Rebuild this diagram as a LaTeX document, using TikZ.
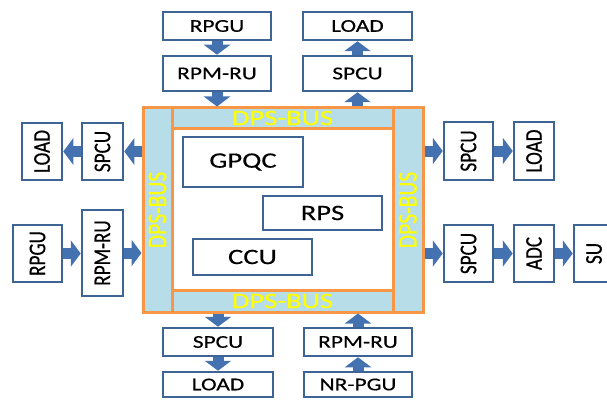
\documentclass[tikz,border=0pt]{standalone}
\usepackage{fontspec}
\setmainfont{Carlito}
\newfontfamily\hfont{Carlito}[FakeStretch=1.3, FakeBold=0.4]
\newfontfamily\vfont{Carlito}[FakeStretch=0.8, FakeBold=0.4]
\usetikzlibrary{arrows.meta}
\definecolor{boxblue}{RGB}{62,100,150}
\definecolor{flowblue}{RGB}{68,114,176}
\definecolor{busfill}{RGB}{183,221,232}
\definecolor{busline}{RGB}{247,150,70}
\definecolor{buslabel}{RGB}{255,255,0}
\tikzstyle{block} = [rectangle, draw=boxblue, line width=2.5pt, fill=white,
    inner sep=0pt, font=\hfont\fontsize{18}{20}\selectfont]
\tikzstyle{vblock} = [block, font=\vfont\fontsize{24}{26}\selectfont]
\tikzstyle{unit} = [block, font=\hfont\fontsize{22}{24}\selectfont]
\tikzstyle{bus} = [rectangle, draw=busline, line width=3pt, fill=busfill,
    inner sep=0pt, text=buslabel, font=\hfont\fontsize{22}{24}\selectfont]
\tikzstyle{vbus} = [bus, font=\vfont\fontsize{27}{29}\selectfont]
\tikzstyle{flow} = [draw=flowblue, line width=11pt, -{Triangle[width=26pt,length=10pt]}]

\begin{document}
\begin{tikzpicture}[x=1pt, y=-1pt]
    \useasboundingbox (0,0) rectangle (607,401);
    \clip (0,0) rectangle (607,401);

    % Bus frame
    \node [vbus, minimum width=29pt, minimum height=204pt] (leftbus) at (157.5,210) {\rotatebox{90}{DPS-BUS}};
    \node [vbus, minimum width=30pt, minimum height=204pt] (rightbus) at (408,210) {\rotatebox{90}{DPS-BUS}};
    \node [bus, minimum width=221pt, minimum height=20pt] (topbus) at (282.5,118) {DPS-BUS};
    \node [bus, minimum width=221pt, minimum height=22pt] (botbus) at (282.5,301) {DPS-BUS};
    \node [bus, fill=white, minimum width=221pt, minimum height=162pt] (core) at (282.5,209) {};

    % Place nodes inside
    \node [unit, minimum width=120pt, minimum height=50pt] (gpqc) at (243,162) {GPQC};
    \node [unit, minimum width=119pt, minimum height=34pt] (rps) at (322.5,213) {RPS};
    \node [unit, minimum width=119pt, minimum height=36pt] (ccu) at (252.5,257) {CCU};

    % Top nodes
    \node [block, minimum width=108pt, minimum height=28pt] (rpgu_t) at (217,26) {RPGU};
    \node [block, minimum width=108pt, minimum height=35pt] (rpmru_t) at (217,73.5) {RPM-RU};
    \node [block, minimum width=109pt, minimum height=28pt] (load_t) at (357.5,26) {LOAD};
    \node [block, minimum width=109pt, minimum height=35pt] (spcu_t) at (357.5,73.5) {SPCU};

    % Bottom nodes
    \node [block, minimum width=110pt, minimum height=28pt] (spcu_b) at (218,342) {SPCU};
    \node [block, minimum width=110pt, minimum height=25pt] (load_b) at (218,384.5) {LOAD};
    \node [block, minimum width=108pt, minimum height=28pt] (rpmru_b) at (358,342) {RPM-RU};
    \node [block, minimum width=108pt, minimum height=25pt] (nrpgu_b) at (358,384.5) {NR-PGU};

    % Left nodes
    \node [vblock, minimum width=40pt, minimum height=57pt] (load_l) at (42,151.5) {\rotatebox{90}{LOAD}};
    \node [vblock, minimum width=41pt, minimum height=57pt] (spcu_l) at (102.5,151.5) {\rotatebox{90}{SPCU}};
    \node [vblock, minimum width=49pt, minimum height=57pt] (rpgu_l) at (37.5,253.5) {\rotatebox{90}{RPGU}};
    \node [vblock, minimum width=41pt, minimum height=86pt] (rpmru_l) at (102.5,253) {\rotatebox{90}{RPM-RU}};

    % Right nodes
    \node [vblock, minimum width=49pt, minimum height=58pt] (spcu_r1) at (468.5,151) {\rotatebox{90}{SPCU}};
    \node [vblock, minimum width=40pt, minimum height=58pt] (load_r) at (534,151) {\rotatebox{90}{LOAD}};
    \node [vblock, minimum width=49pt, minimum height=57pt] (spcu_r2) at (468.5,253.5) {\rotatebox{90}{SPCU}};
    \node [vblock, minimum width=40pt, minimum height=57pt] (adc_r) at (534,253.5) {\rotatebox{90}{ADC}};
    \node [vblock, minimum width=40pt, minimum height=57pt] (su_r) at (594,253.5) {\rotatebox{90}{SU}};

    % Connectors
    \path [flow] (rpgu_t.south) -- (rpmru_t.north);
    \path [flow] (rpmru_t.south) -- (rpmru_t.south |- topbus.north);
    \path [flow] (spcu_t.north) -- (load_t.south);
    \path [flow] (spcu_t.south |- topbus.north) -- (spcu_t.south);

    \path [flow] (leftbus.west |- spcu_l.east) -- (spcu_l.east);
    \path [flow] (spcu_l.west) -- (load_l.east);
    \path [flow] (rpgu_l.east) -- (rpgu_l.east -| rpmru_l.west);
    \path [flow] (rpmru_l.east) -- (rpmru_l.east -| leftbus.west);

    \path [flow] (rightbus.east |- spcu_r1.west) -- (spcu_r1.west);
    \path [flow] (spcu_r1.east) -- (load_r.west);
    \path [flow] (rightbus.east |- spcu_r2.west) -- (spcu_r2.west);
    \path [flow] (spcu_r2.east) -- (adc_r.west);
    \path [flow] (adc_r.east) -- (su_r.west);

    \path [flow] (botbus.south -| spcu_b.north) -- (spcu_b.north);
    \path [flow] (spcu_b.south) -- (load_b.north);
    \path [flow] (nrpgu_b.north) -- (rpmru_b.south);
    \path [flow] (rpmru_b.north) -- (rpmru_b.north |- botbus.south);

\end{tikzpicture}
\end{document}
